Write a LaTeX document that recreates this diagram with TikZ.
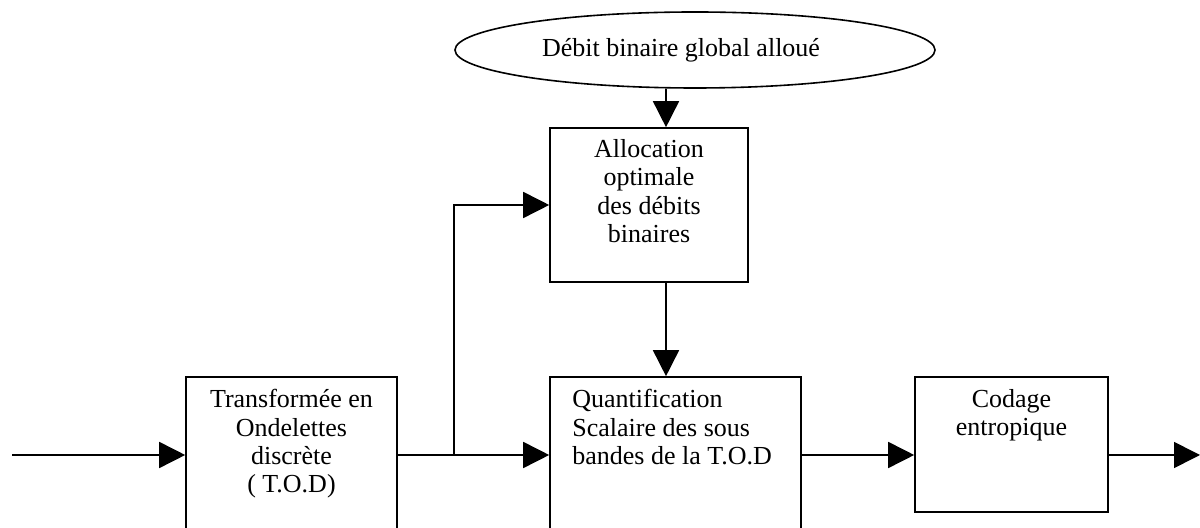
\documentclass[tikz,border=0pt]{standalone}
\usepackage{fontspec}
\setmainfont{Liberation Serif}
\usetikzlibrary{arrows.meta,shapes.geometric}
\begin{document}
\begin{tikzpicture}[x=0.5pt,y=-0.5pt,
  every node/.style={font=\fontsize{13}{14.2}\selectfont},
  blk/.style={draw,line width=0.8pt,rectangle,inner sep=0pt},
  txt/.style={inner sep=0pt,align=center,anchor=north},
  arr/.style={line width=0.8pt,-{Triangle[length=13pt,width=13pt]}},
  ln/.style={line width=0.8pt}]
\useasboundingbox (0,0) rectangle (1200,528);
\clip (0,0) rectangle (1200,528);
% blocks
\node[draw,line width=0.8pt,ellipse,minimum width=240pt,minimum height=38pt,inner sep=0pt] (E) at (695,50) {};
\node[inner sep=0pt] (Et) at (681,50) {Débit binaire global alloué};
\node[blk,minimum width=99pt,minimum height=77pt] (A) at (649,205) {};
\node[txt] (At) at (649,139) {Allocation\\optimale\\des débits\\binaires};
\node[blk,minimum width=105.5pt,minimum height=100pt] (T) at (291.5,477) {};
\node[txt] (Tt) at (291.5,389) {Transformée en\\Ondelettes\\discrète\\( T.O.D)};
\node[blk,minimum width=125.5pt,minimum height=100pt] (Q) at (675.5,477) {};
\node[txt,anchor=north west,align=left] (Qt) at (572,389) {Quantification\\Scalaire des sous\\bandes de la T.O.D};
\node[blk,minimum width=96.5pt,minimum height=67.5pt] (C) at (1011.5,444.5) {};
\node[txt] (Ct) at (1011.5,389) {Codage\\entropique};
% coordinates
\coordinate (in) at (12,455);
\coordinate (out) at (1200,455);
\coordinate (br) at (454,455);
\coordinate (ax) at (666,0);
% connectors
\draw[arr] (in) -- (in -| T.west);
\draw[ln] (in -| T.east) -- (br);
\draw[arr] (br) -- (in -| Q.west);
\draw[arr] (br) |- (A.west);
\draw[arr] (ax |- E.south) -- (ax |- A.north);
\draw[arr] (ax |- A.south) -- (ax |- Q.north);
\draw[arr] (in -| Q.east) -- (in -| C.west);
\draw[arr] (in -| C.east) -- (out);
\end{tikzpicture}
\end{document}
